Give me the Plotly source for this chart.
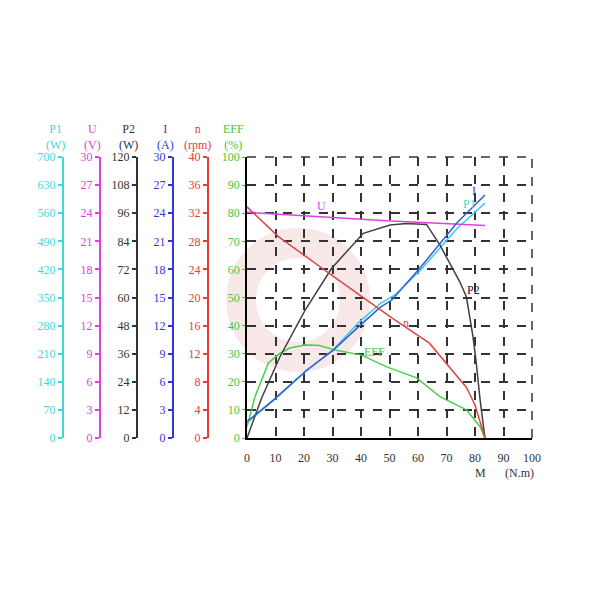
import plotly.graph_objects as go

# ---- data ----
M_U = [0, 49, 83.5]
U_vals = [24.1, 23.2, 22.7]

M_n = [0, 10.9, 29.7, 40.5, 50.8, 64, 77, 80, 83.5]
n_vals = [32.9, 28.7, 23.2, 20.1, 17.1, 13.5, 7.2, 4.7, 0]

M_P2 = [0, 5.1, 11.6, 20.4, 29.7, 40.8, 50.2, 56, 63, 67.7, 74.7, 77, 79.3, 80.3, 81.8, 83.5]
P2_vals = [0, 17.0, 34.8, 54.6, 72.5, 87.4, 91.0, 91.6, 91.2, 82.4, 66.6, 60.2, 43.2, 33.6, 16.2, 0]

M_EFF = [0, 2.8, 7.5, 11.6, 15, 20.4, 25, 30.9, 40.2, 49, 59.5, 67.7, 77, 81.8, 83.5]
EFF_vals = [4, 14.7, 26.7, 30.2, 32, 33.1, 33, 31.3, 29.5, 25.3, 21.4, 14.7, 10, 4, 0]

M_I = [0, 9.2, 21, 30.3, 38.5, 46.7, 50.8, 60.7, 73.6, 83.5]
I_vals = [1.74, 4.05, 7.26, 9.39, 11.7, 13.95, 14.73, 18.15, 22.95, 25.95]

M_P1 = [0, 9.2, 21, 30.3, 39, 46.7, 52, 60.7, 73.6, 83.5]
P1_vals = [38.5, 93.1, 168, 220.5, 286.3, 334.6, 357, 416.5, 521.5, 585.2]

M_ticks = [0, 10, 20, 30, 40, 50, 60, 70, 80, 90, 100]
EFF_ticks = [0, 10, 20, 30, 40, 50, 60, 70, 80, 90, 100]
P1_ticks = [0, 70, 140, 210, 280, 350, 420, 490, 560, 630, 700]
U_ticks = [0, 3, 6, 9, 12, 15, 18, 21, 24, 27, 30]
P2_ticks = [0, 12, 24, 36, 48, 60, 72, 84, 96, 108, 120]
I_ticks = [0, 3, 6, 9, 12, 15, 18, 21, 24, 27, 30]
n_ticks = [0, 4, 8, 12, 16, 20, 24, 28, 32, 36, 40]

# ---- style ----
C_P1 = '#3fd8d8'
C_U = '#e040e0'
C_P2 = '#333333'
C_I = '#3535d8'
C_n = '#e83c3c'
C_EFF = '#40c840'
FONT = 'Liberation Serif'
FS = 12
W = H = 600
OFF = 8               # page body margin
px0, px1 = 247, 532   # plot area pixels (target)
py0, py1 = 157, 438

def fx(p):
    return (p - OFF) / W

def fy(p):
    return 1 - (p - OFF) / H

dom_x = [fx(px0), fx(px1)]
dom_y = [fy(py1), fy(py0)]

fig = go.Figure()
fig.add_trace(go.Scatter(x=M_U, y=U_vals, yaxis='y3', mode='lines', line=dict(color='#e040e0', width=1.5), name='U'))
fig.add_trace(go.Scatter(x=M_n, y=n_vals, yaxis='y6', mode='lines', line=dict(color='#d84848', width=1.5), name='n'))
fig.add_trace(go.Scatter(x=M_P2, y=P2_vals, yaxis='y4', mode='lines', line=dict(color='#404040', width=1.5), name='P2'))
fig.add_trace(go.Scatter(x=M_EFF, y=EFF_vals, yaxis='y', mode='lines', line=dict(color='#48d048', width=1.5), name='EFF'))
fig.add_trace(go.Scatter(x=M_P1, y=P1_vals, yaxis='y2', mode='lines', line=dict(color='#40c8ec', width=1.5), name='P1'))
fig.add_trace(go.Scatter(x=M_I, y=I_vals, yaxis='y5', mode='lines', line=dict(color='#3060d0', width=1.5), name='I'))

def side_axis(ticks, color, pos_px):
    return dict(
        range=[ticks[0], ticks[-1]], tickvals=ticks, domain=dom_y,
        anchor='free', overlaying='y', side='left', position=fx(pos_px),
        showline=True, linecolor=color, linewidth=2, automargin=False,
        ticks='outside', ticklen=4, tickcolor=color, tickwidth=1.5,
        tickfont=dict(color=color, size=FS, family=FONT),
        showgrid=False, zeroline=False, fixedrange=True,
    )

fig.update_layout(
    width=W, height=H, autosize=False,
    margin=dict(l=0, r=0, t=0, b=0, pad=0, autoexpand=False),
    paper_bgcolor='white', plot_bgcolor='white',
    showlegend=False,
    font=dict(family=FONT, size=FS),
    xaxis=dict(
        domain=dom_x, range=[0, 100], tickvals=M_ticks, automargin=False,
        showline=True, linecolor='black', linewidth=1.5,
        showgrid=True, gridcolor='#333333', griddash='dash', gridwidth=1.5,
        zeroline=False, ticks='', ticklabelstandoff=8,
        tickfont=dict(color='#333333', size=FS, family=FONT),
    ),
    yaxis=dict(
        domain=dom_y, range=[0, 100], tickvals=EFF_ticks, automargin=False,
        showline=True, linecolor='black', linewidth=1.5,
        showgrid=True, gridcolor='#333333', griddash='dash', gridwidth=1.5,
        zeroline=False, ticks='outside', ticklen=3, tickcolor=C_EFF,
        tickfont=dict(color=C_EFF, size=FS, family=FONT),
    ),
    yaxis2=side_axis(P1_ticks, C_P1, 63),
    yaxis3=side_axis(U_ticks, C_U, 100),
    yaxis4=side_axis(P2_ticks, C_P2, 137),
    yaxis5=side_axis(I_ticks, C_I, 173),
    yaxis6=side_axis(n_ticks, C_n, 208),
)

# dashed frame on top and right
fig.add_shape(type='line', xref='paper', yref='paper', x0=dom_x[0], x1=dom_x[1], y0=dom_y[1], y1=dom_y[1],
              line=dict(color='#333333', dash='dash', width=1.5))
fig.add_shape(type='line', xref='paper', yref='paper', x0=dom_x[1], x1=dom_x[1], y0=dom_y[0], y1=dom_y[1],
              line=dict(color='#333333', dash='dash', width=1.5))

# faint watermark ring
cx, cy, r = 298, 300, 57
fig.add_shape(type='circle', xref='paper', yref='paper', layer='below',
              x0=fx(cx - r), x1=fx(cx + r), y0=fy(cy + r), y1=fy(cy - r),
              line=dict(color='rgba(225,140,140,0.2)', width=30))

# axis header labels
heads = [('P1<br>(W)', C_P1, 55), ('U<br>(V)', C_U, 92), ('P2<br>(W)', C_P2, 128),
         ('I<br>(A)', C_I, 165), ('n<br>(rpm)', C_n, 197), ('EFF<br>(%)', C_EFF, 233)]
for txt, col, x in heads:
    fig.add_annotation(xref='paper', yref='paper', x=fx(x), y=fy(137), text=txt, showarrow=False,
                       font=dict(color=col, size=FS, family=FONT), xanchor='center', yanchor='middle')

# curve labels
curve_labels = [('U', C_U, 26, 82.6), ('n', '#d84848', 55.8, 41), ('EFF', C_EFF, 44.9, 30.6),
                ('P2', '#222222', 79.3, 52.7), ('P1', C_P1, 78.2, 83.3), ('I', C_I, 79.6, 88)]
for txt, col, x, y in curve_labels:
    fig.add_annotation(x=x, y=y, xref='x', yref='y', text=txt, showarrow=False,
                       font=dict(color=col, size=FS, family=FONT), xanchor='center', yanchor='middle')

fig.add_annotation(xref='paper', yref='paper', x=fx(480), y=fy(473), text='M', showarrow=False,
                   font=dict(color='#333333', size=FS, family=FONT), xanchor='center', yanchor='middle')
fig.add_annotation(xref='paper', yref='paper', x=fx(519), y=fy(473), text='(N.m)', showarrow=False,
                   font=dict(color='#333333', size=FS, family=FONT), xanchor='center', yanchor='middle')

fig.write_html('out.html')
